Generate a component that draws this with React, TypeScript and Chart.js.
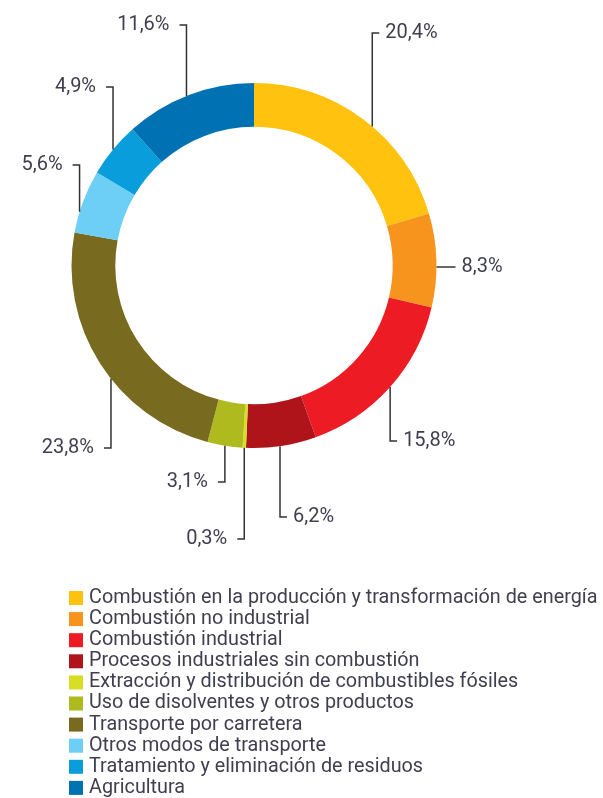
import { useEffect, useRef } from "react";
import { Chart, registerables } from "chart.js";

Chart.register(...registerables);

// ---- data ----
const categories = [
  "Combustión en la producción y transformación de energía",
  "Combustión no industrial",
  "Combustión industrial",
  "Procesos industriales sin combustión",
  "Extracción y distribución de combustibles fósiles",
  "Uso de disolventes y otros productos",
  "Transporte por carretera",
  "Otros modos de transporte",
  "Tratamiento y eliminación de residuos",
  "Agricultura",
];
const shares = [20.4, 8.3, 15.8, 6.2, 0.3, 3.1, 23.8, 5.6, 4.9, 11.6];

// ---- styles ----
const colors = [
  "#FFC20E",
  "#F7941D",
  "#ED1C24",
  "#AF141A",
  "#D7DF23",
  "#AEBA1E",
  "#786A1E",
  "#6DCFF6",
  "#0A9DDC",
  "#0071B2",
];
// where along each arc the leader line starts (fraction of the arc)
const leaderFrac = [0.55, 0.57, 0.5, 0.52, 0.5, 0.5, 0.43, 0.33, 0.5, 0.48];
// vertical end of the leader, relative to centre in units of outer radius (null = horizontal)
const leaderDy: (number | null)[] = [-1.274, null, 0.962, 1.378, 1.499, 1.186, 1.0, -0.551, -0.978, -1.318];
const leaderSide = ["right", "right", "right", "right", "left", "left", "left", "left", "left", "left"];

const TEXT_COLOR = "#3f3f4f";
const LINE_COLOR = "#333333";
const LABEL_FONT = "20px Roboto";
const LEGEND_FONT = "19.8px Roboto";

const fmt = (v: number) => v.toFixed(1).replace(".", ",") + "%";

const leaderPlugin = {
  id: "leaders",
  afterDatasetsDraw(chart: any) {
    const meta = chart.getDatasetMeta(0);
    const ctx = chart.ctx as CanvasRenderingContext2D;
    const values = chart.data.datasets[0].data as number[];
    ctx.save();
    ctx.strokeStyle = LINE_COLOR;
    ctx.lineWidth = 1.5;
    ctx.font = LABEL_FONT;
    ctx.fillStyle = TEXT_COLOR;
    ctx.textBaseline = "middle";
    meta.data.forEach((arc: any, i: number) => {
      const { x, y, startAngle, endAngle, outerRadius } = arc.getProps(
        ["x", "y", "startAngle", "endAngle", "outerRadius"],
        true
      );
      const a = startAngle + leaderFrac[i] * (endAngle - startAngle);
      const ax = x + outerRadius * Math.cos(a);
      const ay = y + outerRadius * Math.sin(a);
      const dir = leaderSide[i] === "right" ? 1 : -1;
      const dy = leaderDy[i];
      const ey = dy === null ? ay : y + dy * outerRadius;
      const tick = dy === null ? 19 : 7;
      const ex = ax + dir * tick;
      ctx.beginPath();
      ctx.moveTo(ax, ay);
      ctx.lineTo(ax, ey);
      ctx.lineTo(ex, ey);
      ctx.stroke();
      ctx.textAlign = dir > 0 ? "left" : "right";
      ctx.fillText(fmt(values[i]), ex + dir * (dir > 0 ? 6 : 10), ey);
    });
    ctx.restore();
  },
};

const legendPlugin = {
  id: "customLegend",
  afterDraw(chart: any) {
    const ctx = chart.ctx as CanvasRenderingContext2D;
    const labels = chart.data.labels as string[];
    const bg = chart.data.datasets[0].backgroundColor as string[];
    const x0 = 69;
    const top = 598;
    const rowH = 21.1;
    const box = 14;
    ctx.save();
    ctx.font = LEGEND_FONT;
    ctx.textBaseline = "middle";
    ctx.textAlign = "left";
    labels.forEach((lab, i) => {
      const cy = top + i * rowH;
      ctx.fillStyle = bg[i];
      ctx.fillRect(x0, cy - box / 2, box, box);
      ctx.fillStyle = TEXT_COLOR;
      ctx.fillText(lab, x0 + 20, cy);
    });
    ctx.restore();
  },
};

export default function App() {
  const ref = useRef<HTMLCanvasElement | null>(null);
  useEffect(() => {
    if (!ref.current) return;
    const chart = new Chart(ref.current, {
      type: "doughnut",
      data: {
        labels: categories,
        datasets: [
          {
            data: shares,
            backgroundColor: colors,
            borderWidth: 0,
            hoverOffset: 0,
            offset: 0,
          },
        ],
      },
      options: {
        responsive: false,
        maintainAspectRatio: false,
        animation: false,
        cutout: "76%",
        layout: { padding: { left: 71.5, right: 166.5, top: 83, bottom: 350 } },
        plugins: {
          legend: { display: false },
          tooltip: { enabled: false },
        },
        events: [],
      },
      plugins: [leaderPlugin, legendPlugin],
    });
    return () => chart.destroy();
  }, []);
  return (
    <div style={{ position: "fixed", left: 0, top: 0, width: 603, height: 798, background: "#fff" }}>
      <canvas ref={ref} width={603} height={798} style={{ display: "block" }} />
    </div>
  );
}
